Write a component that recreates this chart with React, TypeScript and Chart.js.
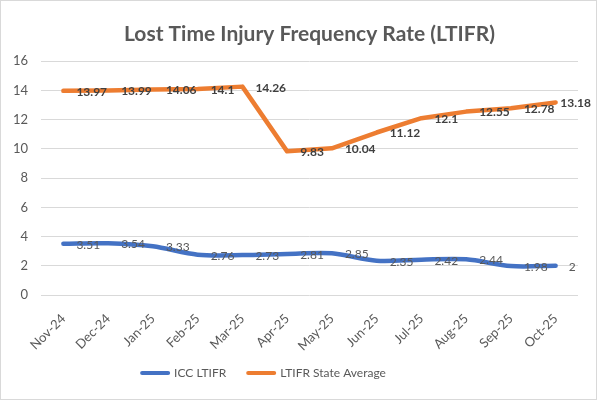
import React, { useEffect, useRef } from "react";
import { Chart, registerables } from "chart.js";

Chart.register(...registerables);

const categories = ["Nov-24", "Dec-24", "Jan-25", "Feb-25", "Mar-25", "Apr-25", "May-25", "Jun-25", "Jul-25", "Aug-25", "Sep-25", "Oct-25"];
const iccLtifr = [3.51, 3.54, 3.33, 2.76, 2.73, 2.81, 2.85, 2.35, 2.42, 2.44, 1.98, 2];
const stateAverage = [13.97, 13.99, 14.06, 14.1, 14.26, 9.83, 10.04, 11.12, 12.1, 12.55, 12.78, 13.18];
const seriesNames = ["ICC LTIFR", "LTIFR State Average"];
const seriesColors = ["#4472C4", "#ED7D31"];
const yTicks = [0, 2, 4, 6, 8, 10, 12, 14, 16];
const titleText = "Lost Time Injury Frequency Rate (LTIFR)";

const FONT = "Lato, 'Open Sans', sans-serif";

const dataLabelPlugin = {
  id: "dataLabels",
  afterDatasetsDraw(chart: any) {
    const ctx = chart.ctx;
    ctx.save();
    chart.data.datasets.forEach((ds: any, i: number) => {
      const meta = chart.getDatasetMeta(i);
      const bold = i === 1;
      ctx.font = `${bold ? "bold " : ""}12px ${FONT}`;
      ctx.fillStyle = bold ? "#404040" : "#595959";
      ctx.textAlign = "left";
      ctx.textBaseline = "middle";
      meta.data.forEach((pt: any, j: number) => {
        const txt = String(ds.data[j]);
        const w = ctx.measureText(txt).width;
        const x = Math.min(pt.x + 13, chart.width - 6 - w);
        ctx.fillText(txt, x, pt.y + 1);
      });
    });
    ctx.restore();
  },
};

const customLegendPlugin = {
  id: "customLegend",
  afterDraw(chart: any) {
    const ctx = chart.ctx;
    ctx.save();
    ctx.font = `12px ${FONT}`;
    ctx.textBaseline = "middle";
    ctx.textAlign = "left";
    const lineW = 30;
    const gapText = 4;
    const gapItem = 20;
    const widths = seriesNames.map((n) => lineW + gapText + ctx.measureText(n).width);
    const total = widths.reduce((a, b) => a + b, 0) + gapItem * (seriesNames.length - 1);
    const centerX = 263;
    const y = 373;
    let x = centerX - total / 2;
    seriesNames.forEach((name, i) => {
      ctx.strokeStyle = seriesColors[i];
      ctx.lineWidth = 4;
      ctx.lineCap = "round";
      ctx.beginPath();
      ctx.moveTo(x + 2, y);
      ctx.lineTo(x + lineW - 2, y);
      ctx.stroke();
      ctx.fillStyle = "#595959";
      ctx.fillText(name, x + lineW + gapText, y);
      x += widths[i] + gapItem;
    });
    ctx.restore();
  },
};

export default function App() {
  const canvasRef = useRef<HTMLCanvasElement | null>(null);

  useEffect(() => {
    document.body.style.margin = "0";
    const canvas = canvasRef.current;
    if (!canvas) return;
    const chart = new Chart(canvas, {
      type: "line",
      data: {
        labels: categories,
        datasets: [
          {
            label: seriesNames[0],
            data: iccLtifr,
            borderColor: seriesColors[0],
            backgroundColor: seriesColors[0],
            borderWidth: 4.5,
            pointRadius: 0,
            tension: 0.3,
            borderCapStyle: "round",
            borderJoinStyle: "round",
            fill: false,
          },
          {
            label: seriesNames[1],
            data: stateAverage,
            borderColor: seriesColors[1],
            backgroundColor: seriesColors[1],
            borderWidth: 4.5,
            pointRadius: 0,
            tension: 0,
            borderCapStyle: "round",
            borderJoinStyle: "round",
            fill: false,
          },
        ],
      },
      options: {
        animation: false,
        responsive: false,
        maintainAspectRatio: false,
        layout: { padding: { left: 0, right: 19, top: 0, bottom: 40 } },
        plugins: {
          legend: { display: false },
          tooltip: { enabled: false },
          title: {
            display: true,
            text: titleText,
            fullSize: false,
            color: "#595959",
            font: { family: FONT, size: 21, weight: "bold" },
            padding: { top: 22, bottom: 14 },
          },
        },
        scales: {
          x: {
            offset: true,
            afterFit: (s: any) => {
              s.height = 65;
            },
            grid: { display: false },
            border: { display: false },
            ticks: {
              color: "#595959",
              font: { family: FONT, size: 13 },
              minRotation: 45,
              maxRotation: 45,
              padding: 8,
            },
          },
          y: {
            min: 0,
            max: 16,
            afterFit: (s: any) => {
              s.width = 41;
            },
            afterBuildTicks: (s: any) => {
              s.ticks = yTicks.map((v) => ({ value: v }));
            },
            grid: { color: "#d9d9d9", lineWidth: 1, drawTicks: false },
            border: { display: false },
            ticks: {
              color: "#595959",
              font: { family: FONT, size: 13 },
              padding: 13,
            },
          },
        },
      },
      plugins: [dataLabelPlugin, customLegendPlugin],
    });
    return () => chart.destroy();
  }, []);

  return (
    <div style={{ position: "relative", width: 597, height: 400, background: "#ffffff" }}>
      <canvas ref={canvasRef} width={597} height={400} style={{ display: "block", width: 597, height: 400 }} />
      <div
        style={{
          position: "absolute",
          inset: 0,
          border: "1px solid #d9d9d9",
          boxSizing: "border-box",
          pointerEvents: "none",
        }}
      />
    </div>
  );
}
